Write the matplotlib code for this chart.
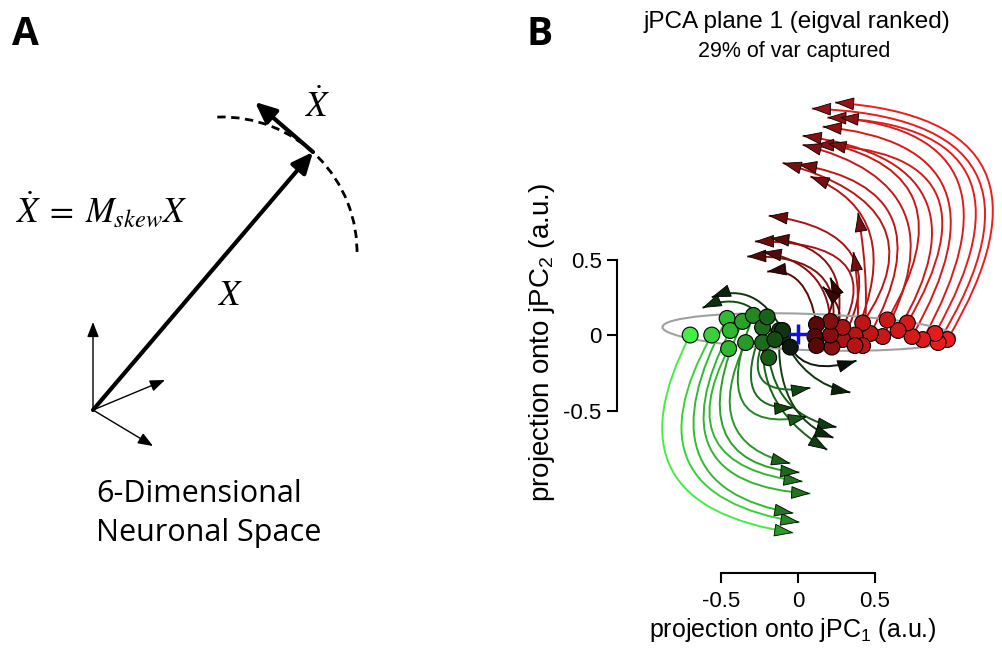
import matplotlib.pyplot as plt
import numpy as np
from matplotlib.patches import Arc, Ellipse, FancyArrowPatch, PathPatch
from matplotlib.path import Path
from matplotlib.colors import LinearSegmentedColormap

plt.rcParams['font.family'] = 'Liberation Sans'
plt.rcParams['mathtext.fontset'] = 'custom'
plt.rcParams['mathtext.rm'] = 'Liberation Sans'
plt.rcParams['mathtext.it'] = 'Liberation Sans:italic'

# ---- panel B data: each condition = start, a point half way along, end (a.u.)
traj_x0 = [0.97, 0.91, 0.89, 0.81, 0.74, 0.71, 0.65, 0.58, 0.55, 0.47,
           0.42, 0.37, 0.29, 0.29, 0.22, 0.21, 0.21, 0.12, 0.42, 0.37,
           0.11, 0.12, -0.10, -0.05, -0.19, -0.12, -0.70, -0.56, -0.46, -0.44,
           -0.45, -0.36, -0.34, -0.29, -0.23, -0.23, -0.20, -0.10, -0.15]
traj_y0 = [-0.03, -0.05, 0.01, -0.03, -0.01, 0.08, 0.03, 0.10, -0.01, 0.01,
           0.08, 0.00, -0.03, 0.05, -0.08, 0.00, 0.09, 0.07, -0.07, -0.07,
           -0.01, -0.07, -0.01, -0.08, -0.15, 0.03, 0.00, 0.00, 0.11, 0.03,
           -0.09, 0.09, -0.05, 0.13, 0.05, -0.05, 0.12, 0.03, -0.03]
traj_xm = [1.21, 1.15, 1.10, 1.04, 0.95, 0.89, 0.82, 0.76, 0.69, 0.61,
           0.55, 0.47, 0.35, 0.29, 0.22, 0.14, 0.09, 0.01, 0.44, 0.39,
           0.22, 0.27, 0.08, 0.11, -0.05, -0.05, -0.82, -0.71, -0.65, -0.57,
           -0.53, -0.48, -0.42, -0.36, -0.29, -0.22, -0.17, -0.30, -0.34]
traj_ym = [1.09, 1.08, 1.06, 1.01, 0.97, 0.95, 0.91, 0.87, 0.81, 0.77,
           0.73, 0.66, 0.53, 0.48, 0.43, 0.40, 0.40, 0.35, 0.33, 0.23,
           0.20, 0.11, -0.26, -0.20, -0.46, -0.43, -0.89, -0.84, -0.77, -0.75,
           -0.70, -0.63, -0.58, -0.44, -0.36, -0.31, -0.38, 0.25, 0.20]
traj_x1 = [0.24, 0.09, 0.19, 0.27, 0.16, 0.11, 0.03, 0.19, 0.03, 0.00,
           -0.10, 0.08, -0.19, -0.28, -0.18, -0.33, -0.23, -0.20, 0.39, 0.36,
           0.21, 0.16, 0.34, 0.38, 0.25, 0.23, -0.03, 0.01, -0.03, 0.08,
           0.03, 0.01, -0.05, 0.06, -0.03, 0.08, 0.19, -0.56, -0.62]
traj_y1 = [1.54, 1.50, 1.44, 1.44, 1.38, 1.26, 1.32, 1.27, 1.26, 1.13,
           1.14, 1.05, 0.79, 0.62, 0.64, 0.52, 0.55, 0.42, 0.81, 0.55,
           0.38, 0.32, -0.38, -0.17, -0.61, -0.68, -1.31, -1.24, -1.18, -1.05,
           -0.97, -0.91, -0.85, -0.54, -0.48, -0.35, -0.76, 0.25, 0.18]

ellipse_center = (0.07, 0.02)
ellipse_width = 1.9
ellipse_height = 0.24
cross_x, cross_y = 0.0, 0.01

tick_vals = [-0.5, 0, 0.5]
tick_labels = ['-0.5', '0', '0.5']

# ---- panel A geometry (pixel units of the figure, y pointing down)
origin = (93, 410)
x_tip = (313, 152)
xdot_tip = (255, 102)
basis_tips = [(93, 322), (165, 380), (153, 446)]
arc_center = (222, 252)
arc_radius = 135

fig = plt.figure(figsize=(10.03, 6.48), dpi=100)

# ================= panel A =================
axa = fig.add_axes([0, 0, 500 / 1003, 1])
axa.set_xlim(0, 500)
axa.set_ylim(648, 0)
axa.axis('off')

axa.add_patch(Arc(arc_center, 2 * arc_radius, 2 * arc_radius, theta1=-92, theta2=2,
                  color='k', lw=2, ls=(0, (3, 2))))
axa.add_patch(FancyArrowPatch(origin, x_tip, arrowstyle='-|>,head_length=0.9,head_width=0.4',
                              mutation_scale=14, lw=3, color='k', shrinkA=0, shrinkB=0))
axa.add_patch(FancyArrowPatch(x_tip, xdot_tip, arrowstyle='-|>,head_length=0.9,head_width=0.4',
                              mutation_scale=14, lw=3, color='k', shrinkA=0, shrinkB=0))
for tip in basis_tips:
    axa.add_patch(FancyArrowPatch(origin, tip, arrowstyle='-|>,head_length=0.9,head_width=0.35',
                                  mutation_scale=10, lw=1, color='k', shrinkA=0, shrinkB=0))

axa.text(12, 45, 'A', fontsize=28, fontweight='bold', family='Open Sans', va='baseline')
axa.text(15, 222, r'$\dot{X}\;=\;M_{skew}X$', fontsize=25, math_fontfamily='stix', va='baseline')
axa.text(304, 117, r'$\dot{X}$', fontsize=25, math_fontfamily='stix', va='baseline')
axa.text(217, 305, r'$X$', fontsize=25, math_fontfamily='stix', va='baseline')
axa.text(96, 502, '6-Dimensional', fontsize=22, family='Open Sans', va='baseline')
axa.text(96, 541, 'Neuronal Space', fontsize=22, family='Open Sans', va='baseline')

# ================= panel B =================
axb = fig.add_axes([617 / 1003, 75 / 648, 386 / 1003, 493 / 648])
axb.set_xlim(-1.175, 1.331)
axb.set_ylim(-1.576, 1.689)

S = np.column_stack([traj_x0, traj_y0])
M = np.column_stack([traj_xm, traj_ym])
E = np.column_stack([traj_x1, traj_y1])
C = 2 * M - (S + E) / 2  # control point so the curve passes through M

cmap = LinearSegmentedColormap.from_list('jpca', [
    (0.0, '#44ee44'), (0.2, '#2aa52a'), (0.33, '#124d12'), (0.40, '#0d0d0d'),
    (0.47, '#4a0606'), (0.6, '#b01414'), (1.0, '#ee1c1c')])
t = (S[:, 0] - S[:, 0].min()) / np.ptp(S[:, 0])
cols = cmap(t)
dark = cols.copy()
dark[:, :3] *= 0.65

for i in range(len(S)):
    path = Path([S[i], C[i], E[i]], [Path.MOVETO, Path.CURVE3, Path.CURVE3])
    axb.add_patch(PathPatch(path, fc='none', ec=cols[i], lw=1.4, zorder=2))
for i in range(len(S)):
    d = E[i] - C[i]
    d = d / np.hypot(d[0], d[1])
    axb.add_patch(FancyArrowPatch(E[i] - 0.02 * d, E[i],
                                  arrowstyle='-|>,head_length=1.25,head_width=0.42',
                                  mutation_scale=10, shrinkA=0, shrinkB=0,
                                  fc=dark[i], ec='k', lw=0.6, zorder=3))

axb.add_patch(Ellipse(ellipse_center, ellipse_width, ellipse_height, angle=-2,
                      fill=False, ec='#a0a0a0', lw=1.5, zorder=3.5))
axb.scatter(S[:, 0], S[:, 1], s=130, c=cols, edgecolors='k', linewidths=0.8, zorder=4)
axb.plot(cross_x, cross_y, '+', color='#1010e0', ms=14, mew=2.5, zorder=5)

for s in ['top', 'right']:
    axb.spines[s].set_visible(False)
axb.spines['left'].set_bounds(-0.5, 0.5)
axb.spines['bottom'].set_bounds(-0.5, 0.5)
axb.spines['left'].set_linewidth(1.5)
axb.spines['bottom'].set_linewidth(1.5)
axb.set_xticks(tick_vals, tick_labels)
axb.set_yticks(tick_vals, tick_labels)
axb.tick_params(length=7, width=1.5, labelsize=16, pad=4)
axb.tick_params(axis='x', pad=6)
axb.set_xlabel('projection onto jPC$_1$ (a.u.)', fontsize=18, labelpad=3)
axb.set_ylabel('projection onto jPC$_2$ (a.u.)', fontsize=20, labelpad=5)
axb.xaxis.label.set_x(0.456)
axb.yaxis.label.set_y(0.467)

fig.text(527 / 1003, 1 - 45 / 648, 'B', fontsize=28, fontweight='bold', family='Open Sans', va='baseline')
fig.text(797 / 1003, 1 - 28 / 648, 'jPCA plane 1 (eigval ranked)', fontsize=17.5, ha='center', va='baseline')
fig.text(794 / 1003, 1 - 57 / 648, '29% of var captured', fontsize=15.5, ha='center', va='baseline')

fig.savefig('out.png', dpi=100)
